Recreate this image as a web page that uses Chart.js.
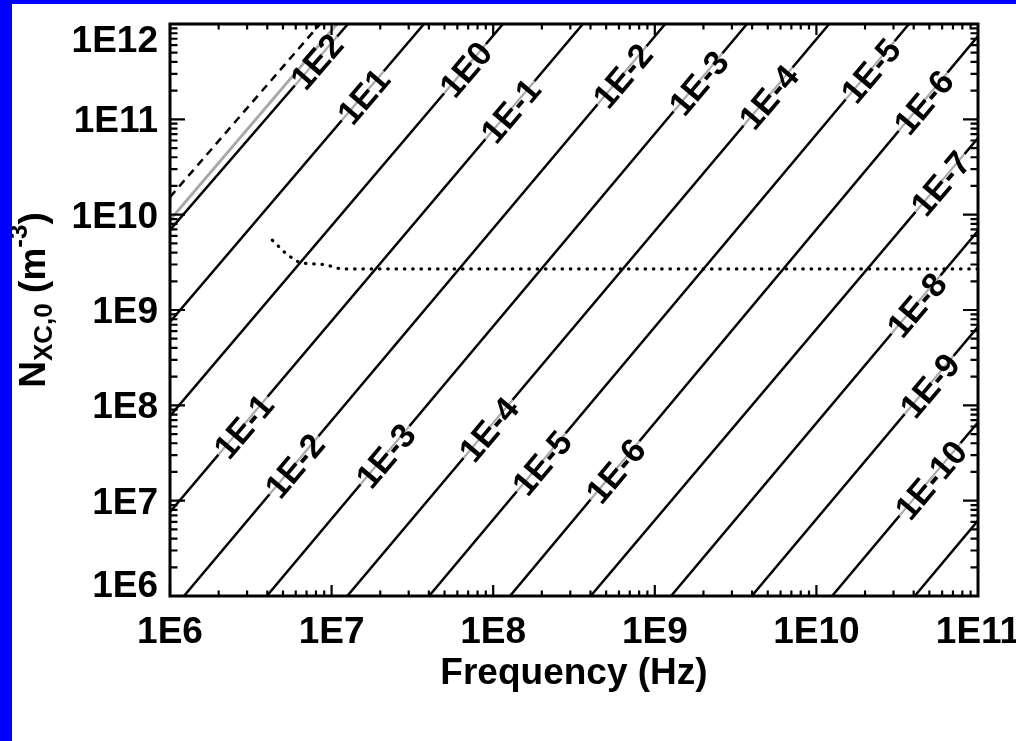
<!DOCTYPE html>
<html>
<head>
<meta charset="utf-8">
<script src="https://cdn.jsdelivr.net/npm/chart.js@4/dist/chart.umd.min.js"></script>
<style>
  html, body { margin: 0; padding: 0; background: #0000ff; overflow: hidden; }
  #wrap { position: absolute; left: 12px; top: 4px; width: 1004px; height: 737px; background: #fff; }
</style>
</head>
<body>
<div id="wrap"><canvas id="nxcChart" width="1004" height="737"></canvas></div>
<script>
var xTicks = [1e6, 1e7, 1e8, 1e9, 1e10, 1e11];
var xTickLabels = ['1E6', '1E7', '1E8', '1E9', '1E10', '1E11'];
var yTicks = [1e6, 1e7, 1e8, 1e9, 1e10, 1e11, 1e12];
var yTickLabels = ['1E6', '1E7', '1E8', '1E9', '1E10', '1E11', '1E12'];

// contour lines, each one a straight segment in log-log between two points
var lineLabels    = ['1E2', '1E1', '1E0', '1E-1', '1E-2', '1E-3', '1E-4', '1E-5', '1E-6', '1E-7', '1E-8', '1E-9', '1E-10', '1E-11'];
var lineStartFreq = [1e6, 1e6, 1e6, 1e6, 1.22e6, 3.97e6, 1.25e7, 4.01e7, 1.27e8, 4.01e8, 1.26e9, 3.98e9, 1.25e10, 4.06e10];
var lineStartDens = [6.91e9, 7.48e8, 7.73e7, 7.61e6, 1e6, 1e6, 1e6, 1e6, 1e6, 1e6, 1e6, 1e6, 1e6, 1e6];
var lineEndFreq   = [1.263e7, 3.73e7, 1.15e8, 3.59e8, 1.16e9, 3.72e9, 1.20e10, 3.74e10, 1e11, 1e11, 1e11, 1e11, 1e11, 1e11];
var lineEndDens   = [1e12, 1e12, 1e12, 1e12, 1e12, 1e12, 1e12, 1e12, 7.48e11, 6.37e10, 6.79e9, 6.68e8, 6.64e7, 6.17e6];

// frequency where each line carries its label (null = no label)
var labelFreqUpper = [8.01e6, 1.56e7, 6.69e7, 1.27e8, 6.27e8, 1.85e9, 5.02e9, 2.15e10, 4.57e10, 5.82e10, 4.13e10, 4.98e10, 5.05e10, null];
var labelFreqLower = [null, null, null, 2.83e6, 5.85e6, 2.14e7, 9.29e7, 1.98e8, 5.67e8, null, null, null, null, null];

// grey and dashed limits in the upper left corner
var grayFreq = [1e6, 1.08e7];
var grayDens = [8.79e9, 1e12];
var dashFreq = [1e6, 8.48e6];
var dashDens = [1.53e10, 1e12];

// dotted cutoff curve
var dotFreq = [4.3e6, 5.3e6, 6.4e6, 9.1e6, 1.13e7, 1e11];
var dotDens = [5.4e9, 3.8e9, 3.1e9, 3.0e9, 2.7e9, 2.7e9];

var FONT = '"Liberation Sans", Arial, Helvetica, sans-serif';

function pairs(xs, ys) {
    return xs.map(function (x, i) { return { x: x, y: ys[i] }; });
}

var datasets = [];
lineLabels.forEach(function (lbl, i) {
    datasets.push({
        label: lbl,
        data: [{ x: lineStartFreq[i], y: lineStartDens[i] }, { x: lineEndFreq[i], y: lineEndDens[i] }],
        borderColor: '#000',
        borderWidth: 2.5
    });
});
datasets.push({ label: 'gray', data: pairs(grayFreq, grayDens), borderColor: '#a8a8a8', borderWidth: 2.8 });
datasets.push({ label: 'dashed', data: pairs(dashFreq, dashDens), borderColor: '#000', borderWidth: 2.5, borderDash: [8, 6] });
datasets.push({
    label: 'dotted', data: pairs(dotFreq, dotDens), borderColor: '#000', borderWidth: 3.2,
    borderDash: [0.5, 7.8], borderCapStyle: 'round'
});
datasets.forEach(function (d) { d.showLine = true; d.pointRadius = 0; d.fill = false; });

function drawLineLabel(ctx, xs, ys, i, f) {
    var x0 = xs.getPixelForValue(lineStartFreq[i]), y0 = ys.getPixelForValue(lineStartDens[i]);
    var x1 = xs.getPixelForValue(lineEndFreq[i]), y1 = ys.getPixelForValue(lineEndDens[i]);
    var t = (Math.log10(f) - Math.log10(lineStartFreq[i])) /
            (Math.log10(lineEndFreq[i]) - Math.log10(lineStartFreq[i]));
    var px = x0 + t * (x1 - x0), py = y0 + t * (y1 - y0);
    var w = ctx.measureText(lineLabels[i]).width;

    ctx.save();
    ctx.translate(px, py);
    ctx.rotate(Math.atan2(y1 - y0, x1 - x0));
    ctx.beginPath();
    ctx.moveTo(-w / 2 - 2, 0);
    ctx.lineTo(w / 2 + 2, 0);
    ctx.strokeStyle = '#fff';
    ctx.lineWidth = 6;
    ctx.stroke();
    ctx.strokeStyle = '#aaa';
    ctx.lineWidth = 2.2;
    ctx.stroke();
    ctx.fillStyle = '#000';
    ctx.fillText(lineLabels[i], -w / 2, 12.5);
    ctx.restore();
}

var contourLabels = {
    id: 'contourLabels',
    afterDatasetsDraw: function (chart) {
        var ctx = chart.ctx;
        ctx.save();
        ctx.font = 'bold 34px ' + FONT;
        for (var i = 0; i < lineLabels.length; i++) {
            if (labelFreqUpper[i]) drawLineLabel(ctx, chart.scales.x, chart.scales.y, i, labelFreqUpper[i]);
            if (labelFreqLower[i]) drawLineLabel(ctx, chart.scales.x, chart.scales.y, i, labelFreqLower[i]);
        }
        ctx.restore();
    }
};

// box with inward ticks on all four sides, plus labels and titles
var idlAxes = {
    id: 'idlAxes',
    afterDraw: function (chart) {
        var ctx = chart.ctx, a = chart.chartArea;
        var xs = chart.scales.x, ys = chart.scales.y;
        var d, k, p, len;
        ctx.save();
        ctx.strokeStyle = '#000';
        ctx.lineWidth = 2.2;
        ctx.beginPath();
        for (d = 6; d < 11; d++) {
            for (k = 1; k < 10; k++) {
                p = xs.getPixelForValue(k * Math.pow(10, d));
                len = k === 1 ? 11 : 5.5;
                ctx.moveTo(p, a.bottom); ctx.lineTo(p, a.bottom - len);
                ctx.moveTo(p, a.top); ctx.lineTo(p, a.top + len);
            }
        }
        for (d = 6; d < 12; d++) {
            for (k = 1; k < 10; k++) {
                p = ys.getPixelForValue(k * Math.pow(10, d));
                len = k === 1 ? 15 : 7.5;
                ctx.moveTo(a.left, p); ctx.lineTo(a.left + len, p);
                ctx.moveTo(a.right, p); ctx.lineTo(a.right - len, p);
            }
        }
        ctx.stroke();
        ctx.lineWidth = 3;
        ctx.strokeRect(a.left, a.top, a.right - a.left, a.bottom - a.top);

        ctx.fillStyle = '#000';
        ctx.font = 'bold 37px ' + FONT;
        ctx.textBaseline = 'alphabetic';
        ctx.textAlign = 'center';
        xTicks.forEach(function (v, i) {
            ctx.fillText(xTickLabels[i], xs.getPixelForValue(v), a.bottom + 47);
        });
        ctx.textAlign = 'right';
        yTicks.forEach(function (v, i) {
            var base = ys.getPixelForValue(v) + 13;
            base = Math.max(a.top + 27.5, Math.min(a.bottom + 1, base));
            ctx.fillText(yTickLabels[i], a.left - 12, base);
        });

        ctx.textAlign = 'center';
        ctx.fillText('Frequency (Hz)', (a.left + a.right) / 2, 680);

        // N_XC,0 (m^-3), read bottom to top
        var parts = [
            { t: 'N', size: 37, dy: 0 },
            { t: 'XC,0', size: 26, dy: 7 },
            { t: ' (m', size: 37, dy: 0 },
            { t: '-3', size: 26, dy: -18 },
            { t: ')', size: 37, dy: 0 }
        ];
        ctx.textAlign = 'left';
        var total = 0;
        parts.forEach(function (s) {
            ctx.font = 'bold ' + s.size + 'px ' + FONT;
            s.w = ctx.measureText(s.t).width;
            total += s.w;
        });
        ctx.translate(33, 296 + total / 2);
        ctx.rotate(-Math.PI / 2);
        var x = 0;
        parts.forEach(function (s) {
            ctx.font = 'bold ' + s.size + 'px ' + FONT;
            ctx.fillText(s.t, x, s.dy);
            x += s.w;
        });
        ctx.restore();
    }
};

new Chart(document.getElementById('nxcChart').getContext('2d'), {
    type: 'scatter',
    data: { datasets: datasets },
    options: {
        responsive: false,
        animation: false,
        devicePixelRatio: 1,
        events: [],
        layout: { padding: { left: 158, right: 38, top: 20, bottom: 145 } },
        plugins: { legend: { display: false }, tooltip: { enabled: false } },
        scales: {
            x: { type: 'logarithmic', min: 1e6, max: 1e11, display: false },
            y: { type: 'logarithmic', min: 1e6, max: 1e12, display: false }
        }
    },
    plugins: [contourLabels, idlAxes]
});
</script>
</body>
</html>
